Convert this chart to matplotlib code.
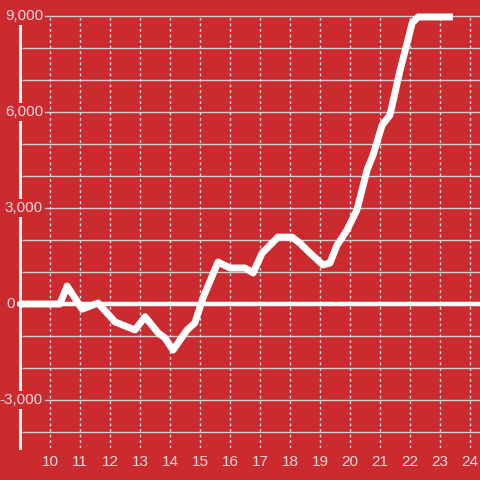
import matplotlib.pyplot as plt

# data
hours = [9.0, 10.33, 10.57, 11.07, 11.6, 12.17, 12.83, 13.17, 13.6, 13.83, 14.1,
         14.57, 14.83, 15.1, 15.6, 16.0, 16.5, 16.77, 17.07, 17.6, 18.07, 18.33,
         18.67, 19.1, 19.33, 19.57, 19.9, 20.23, 20.57, 20.77, 21.07, 21.33,
         21.67, 21.93, 22.07, 22.27, 23.43]
values = [0, 0, 560, -160, 30, -560, -810, -400, -900, -1060, -1440,
          -810, -590, 190, 1310, 1125, 1125, 970, 1590, 2090, 2090, 1900,
          1590, 1220, 1280, 1840, 2310, 2940, 4190, 4660, 5590, 5900,
          7310, 8250, 8780, 8970, 8970]
x_ticks = list(range(10, 25))
y_grid = list(range(-4000, 9001, 1000))
y_labels = [-3000, 0, 3000, 6000, 9000]

bg = '#cb2a2f'
txt = '#f4d8da'
plt.rcParams['font.family'] = ['Liberation Sans', 'DejaVu Sans']

fig = plt.figure(figsize=(4.8, 4.8), dpi=100, facecolor=bg)
ax = fig.add_axes([20/480, 32/480, 460/480, 448/480], facecolor=bg)
ax.set_xlim(9.0, 24.333)
ax.set_ylim(-4500, 9500)

# grid
ax.hlines(y_grid, 9.07, 24.333, color='#cfcfcf', lw=1.0, zorder=1)
ax.vlines(x_ticks, -4500, 9000, color='#dddddd', lw=1.0, linestyles=(0, (2, 2)), zorder=1)
# zero line, starts just left of the axis
ax.plot([8.9, 24.333], [0, 0], color='white', lw=3.2, zorder=2, clip_on=False,
        solid_capstyle='butt')

ax.plot(hours, values, color='white', lw=5, solid_joinstyle='round',
        solid_capstyle='butt', zorder=3)

for s in ['top', 'right', 'bottom']:
    ax.spines[s].set_visible(False)
ax.spines['left'].set_color('#eeeeee')
ax.spines['left'].set_linewidth(2.2)
ax.spines['left'].set_bounds(-4500, 9250)
ax.spines['left'].set_zorder(2.5)

ax.set_yticks([])
ax.set_xticks(x_ticks)
ax.set_xticklabels([str(t) for t in x_ticks])
ax.tick_params(axis='x', length=0, pad=5, labelsize=11, labelcolor=txt)

for v in y_labels:
    if v == 0:
        ax.text(-5/460, v, '0', transform=ax.get_yaxis_transform(),
                ha='right', va='center', fontsize=11, color=txt, clip_on=False)
        continue
    ax.text(23/460, v, f'{v:,}', transform=ax.get_yaxis_transform(),
            ha='right', va='center', fontsize=11, color=txt, zorder=4,
            bbox=dict(facecolor=bg, edgecolor='none', pad=1.5))

fig.savefig('out.png', dpi=100, facecolor=bg)
